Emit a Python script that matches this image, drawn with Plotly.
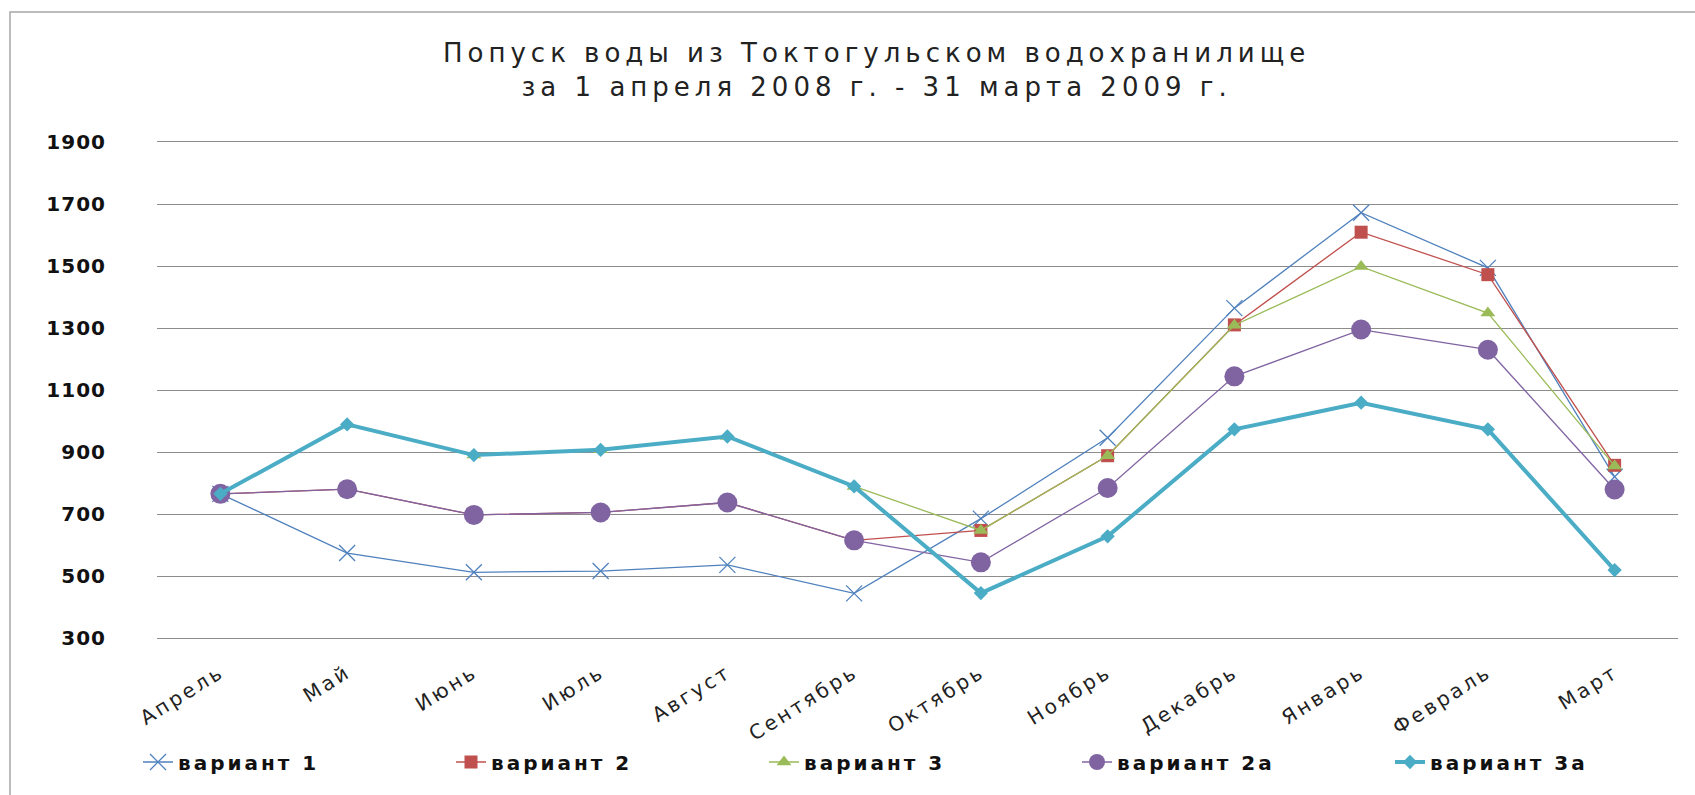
import plotly.graph_objects as go

months = ["Апрель", "Май", "Июнь", "Июль", "Август", "Сентябрь",
          "Октябрь", "Ноябрь", "Декабрь", "Январь", "Февраль", "Март"]
v1 = [765, 574, 512, 516, 536, 444, 685, 946, 1364, 1672, 1494, 820]
v2 = [765, 780, 697, 705, 737, 615, 647, 888, 1310, 1609, 1472, 857]
v3 = [765, 989, 890, 907, 950, 789, 647, 888, 1309, 1498, 1348, 855]
v2a = [765, 780, 697, 705, 737, 615, 544, 784, 1144, 1295, 1230, 779]
v3a = [765, 989, 890, 907, 950, 789, 445, 628, 973, 1059, 973, 519]
series_names = ["вариант 1", "вариант 2", "вариант 3", "вариант 2а", "вариант 3а"]
y_ticks = [300, 500, 700, 900, 1100, 1300, 1500, 1700, 1900]
title_lines = ["Попуск воды из Токтогульском водохранилище",
               "за 1 апреля 2008 г. - 31 марта 2009 г."]

W, H = 1695, 795
L, R, T, B = 157, 17, 142, 157
PW, PH = W - L - R, H - T - B


def sp(text, ls):
    return f'<span style="letter-spacing:{ls}px">{text}</span>'


def px_x(p):
    return (p - L) / PW


def px_y(p):
    return (H - B - p) / PH


styles = [
    dict(color="#4F81BD", width=1.3, symbol="x-thin", size=16, lw=1.3),
    dict(color="#C0504D", width=1.3, symbol="square", size=13, lw=0),
    dict(color="#9BBB59", width=1.3, symbol="triangle-up", size=13, lw=0),
    dict(color="#8064A2", width=1.3, symbol="circle", size=20, lw=0),
    dict(color="#4BACC6", width=4, symbol="diamond", size=11, lw=0),
]
data = [v1, v2, v3, v2a, v3a]

fig = go.Figure()
for name, vals, st in zip(series_names, data, styles):
    fig.add_trace(go.Scatter(
        x=months, y=vals, mode="lines+markers",
        name=sp(name, 3),
        line=dict(color=st["color"], width=st["width"]),
        marker=dict(symbol=st["symbol"], size=st["size"], color=st["color"],
                    line=dict(color=st["color"], width=st["lw"])),
    ))

fig.update_layout(
    width=W, height=H,
    margin=dict(l=L, r=R, t=T, b=B, autoexpand=False),
    paper_bgcolor="white", plot_bgcolor="white",
    font=dict(family="DejaVu Sans", color="#000000"),
    showlegend=True,
    legend=dict(
        orientation="h", x=px_x(138), xanchor="left",
        y=px_y(762), yanchor="middle",
        font=dict(family="DejaVu Sans", size=20, color="#111111", weight="bold"),
        entrywidth=268, entrywidthmode="pixels",
        bgcolor="rgba(0,0,0,0)", traceorder="normal",
    ),
    xaxis=dict(
        type="category", categoryorder="array", categoryarray=months,
        tickmode="array", tickvals=months,
        ticktext=[sp(m, 3) for m in months],
        tickangle=-32, showgrid=False, zeroline=False,
        showline=True, mirror=True, linecolor="#8c8c8c", linewidth=1.3,
        ticks="", ticklabelstandoff=14,
        tickfont=dict(family="DejaVu Sans", size=20, color="#222222"),
        range=[-0.5, len(months) - 0.5], fixedrange=True,
    ),
    yaxis=dict(
        range=[300, 1900], tickmode="array", tickvals=y_ticks,
        ticktext=[sp(str(v), 1) for v in y_ticks],
        showgrid=True, gridcolor="#8c8c8c", gridwidth=1.3,
        zeroline=False, showline=False, ticks="",
        ticklabelstandoff=50,
        tickfont=dict(family="DejaVu Sans", size=20, color="#111111", weight="bold"),
        fixedrange=True,
    ),
    annotations=[dict(
        text=sp(title_lines[0], 5) + "<br>" + sp(title_lines[1], 5),
        xref="paper", yref="paper", x=px_x(876), y=px_y(70),
        xanchor="center", yanchor="middle", showarrow=False,
        font=dict(family="DejaVu Sans", size=26, color="#222222"),
    )],
    shapes=[dict(
        type="rect", xref="paper", yref="paper",
        x0=px_x(10), x1=px_x(1720), y0=px_y(820), y1=px_y(12),
        line=dict(color="#a6a6a6", width=1.5), layer="below",
    )],
)

fig.write_html(
    "out.html",
    config={"displayModeBar": False},
    post_script="document.body.style.margin='0';document.body.style.overflow='hidden';",
)
